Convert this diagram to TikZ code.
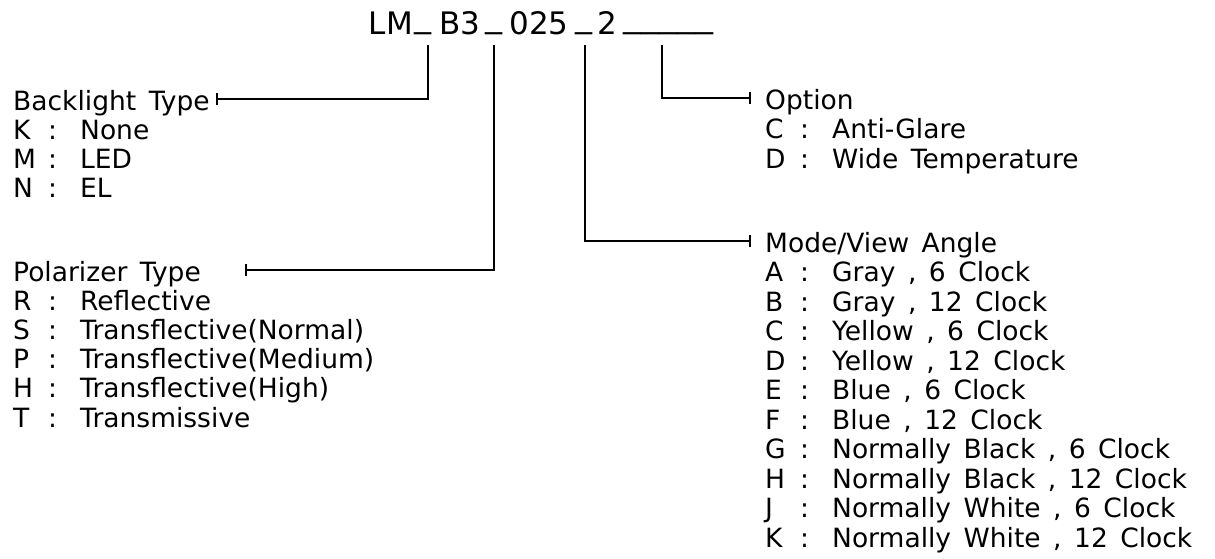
\documentclass[tikz,border=0pt]{standalone}
\usepackage{fontspec}
\setmainfont{DejaVu Sans}
\usetikzlibrary{arrows.meta}
\newcommand\optrow[2]{\makebox[35pt][l]{#1}\makebox[32pt][l]{:}#2}
\newcommand\uline[1]{\raisebox{6.5pt}{\scalebox{#1}[1]{\_}}}
\tikzset{
  ttl/.style={anchor=base, inner sep=0pt, font=\fontsize{31}{34}\selectfont},
  lbl/.style={anchor=base west, inner sep=0pt, text height=22pt, text depth=0pt,
              font={\fontsize{26.5}{29}\selectfont\spaceskip=12.5pt\relax}},
  conn/.style={line width=1.6pt, -{Bar[width=12pt,line width=1.6pt]}}
}
\begin{document}
\begin{tikzpicture}[x=1pt,y=-1pt]
\fill[white] (0,0) rectangle (1215,558);
\useasboundingbox (0,0) rectangle (1215,558);
% title
\node[ttl] (tLM) at (391,34) {LM};
\node[ttl] (u1) at (423.5,34) {\uline{1.1}};
\node[ttl] (tB3) at (459.5,34) {B3};
\node[ttl] (u2) at (494,34) {\uline{1.1}};
\node[ttl] (t025) at (539,34) {025};
\node[ttl] (u3) at (584,34) {\uline{1.1}};
\node[ttl] (t2) at (607.5,34) {2};
\node[ttl,anchor=base west] (u4) at (623,34) {\raisebox{6.5pt}{\scalebox{1.16}[1]{\_\_\_\_\_}}};
\coordinate (c1) at (428,45);
\coordinate (c2) at (494,45);
\coordinate (c3) at (585,45);
\coordinate (c4) at (662,45);
% left: backlight
\node[lbl] (bl) at (13,110) {Backlight Type};
\foreach \l/\t [count=\i] in {K/None, M/LED, N/EL}
  \node[lbl] (bl\i) at (13,{110+29.3*\i}) {\optrow{\l}{\t}};
% left: polarizer
\node[lbl] (po) at (13,281) {Polarizer Type};
\foreach \l/\t [count=\i] in {R/Reflective, S/Transflective(Normal), P/Transflective(Medium), H/Transflective(High), T/Transmissive}
  \node[lbl] (po\i) at (13,{281+29.2*\i}) {\optrow{\l}{\t}};
% right: option
\node[lbl] (op) at (765,109) {Option};
\foreach \l/\t [count=\i] in {C/Anti-Glare, D/{Wide Temperature}}
  \node[lbl] (op\i) at (765,{109+29.5*\i}) {\optrow{\l}{\t}};
% right: mode
\node[lbl] (mo) at (765,252) {Mode/View Angle};
\foreach \l/\t [count=\i] in {A/{Gray , 6 Clock}, B/{Gray , 12 Clock}, C/{Yellow , 6 Clock}, D/{Yellow , 12 Clock}, E/{Blue , 6 Clock}, F/{Blue , 12 Clock}, G/{Normally Black , 6 Clock}, H/{Normally Black , 12 Clock}, J/{Normally White , 6 Clock}, K/{Normally White , 12 Clock}}
  \node[lbl] (mo\i) at (765,{252+29.5*\i}) {\optrow{\l}{\t}};
% connectors
\draw[conn] (c1) |- (216,0 |- bl.center);
\draw[conn] (c2) |- (245,0 |- po.center);
\draw[conn] (c3) |- (751,0 |- mo.center);
\draw[conn] (c4) |- (751,0 |- op.center);
\end{tikzpicture}
\end{document}
